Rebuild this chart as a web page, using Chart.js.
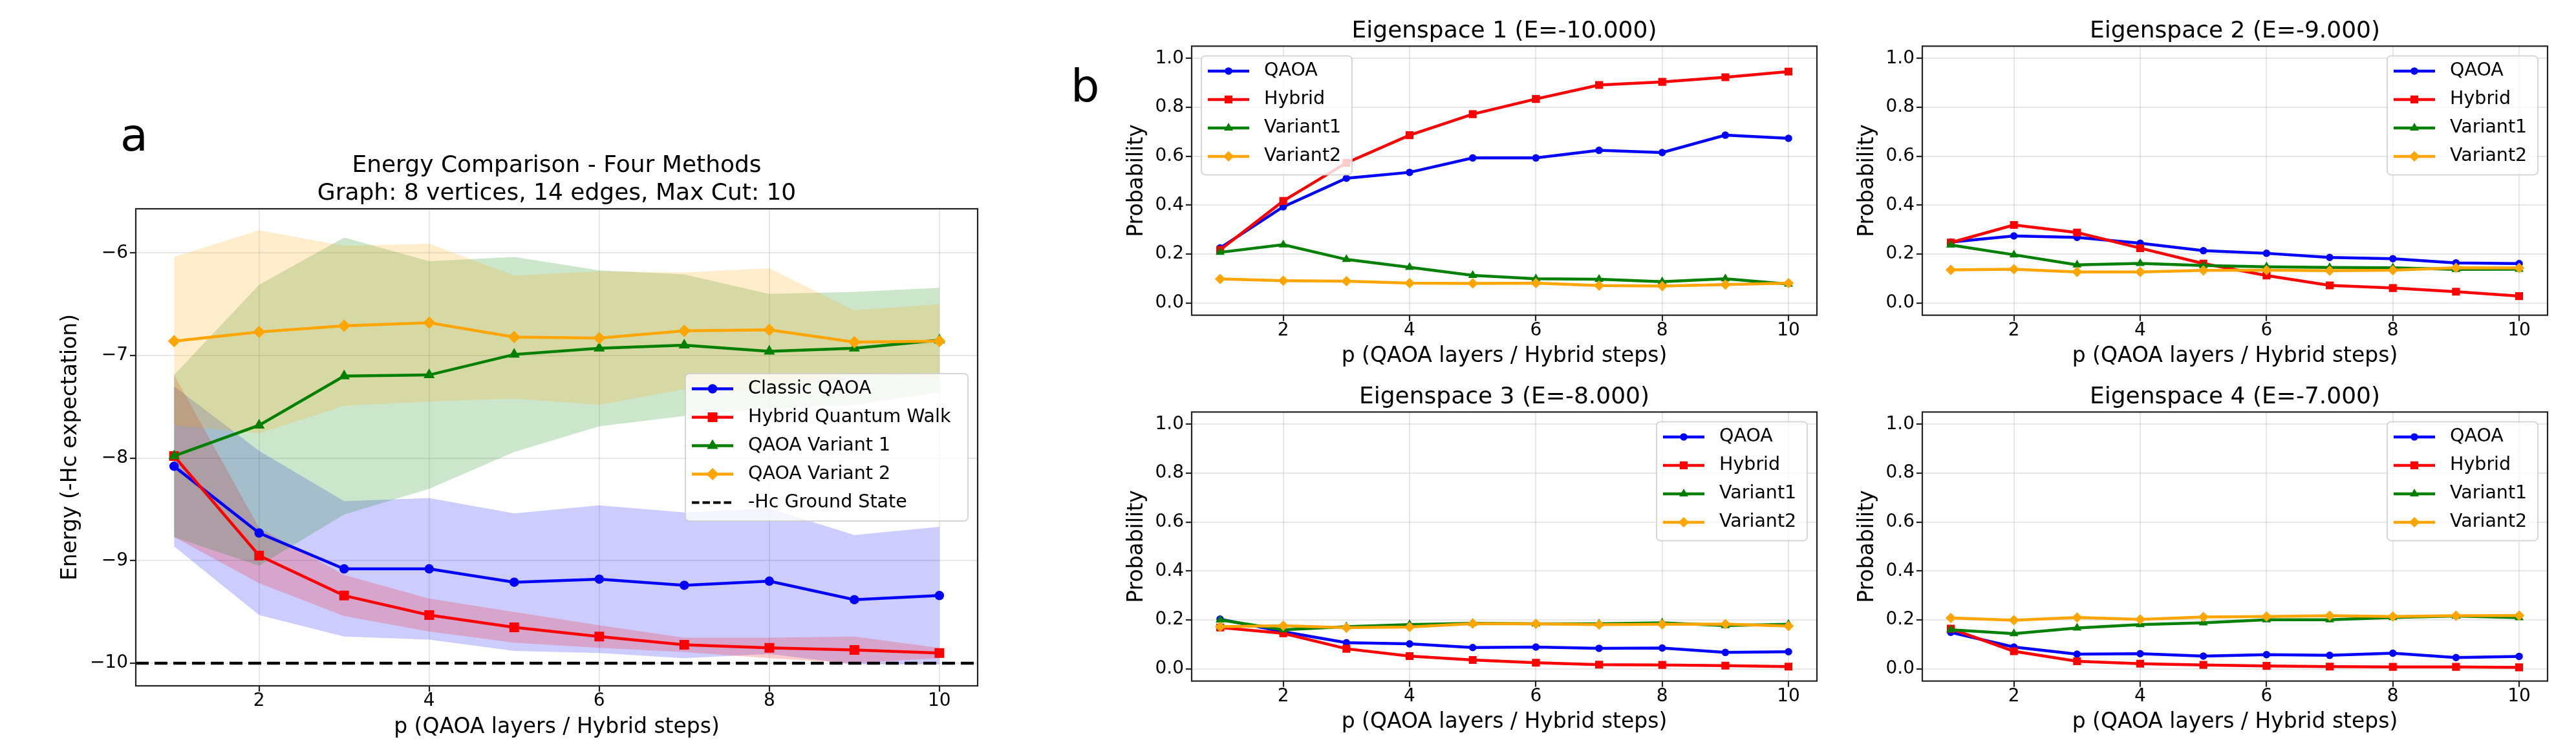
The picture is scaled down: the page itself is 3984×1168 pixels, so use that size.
<!DOCTYPE html>
<html>
<head>
<meta charset="utf-8">
<title>Energy comparison and eigenspace probabilities</title>
<script src="https://cdn.jsdelivr.net/npm/chart.js@4.4.1/dist/chart.umd.min.js"></script>
<style>
    html, body { margin: 0; padding: 0; background: #ffffff; }
    body { position: relative; width: 3984px; height: 1168px; overflow: hidden; font-family: "DejaVu Sans", sans-serif; }
    canvas { position: absolute; }
    .tag { position: absolute; font-size: 70px; line-height: 70px; color: #000; }
</style>
</head>
<body>

<div class="tag" style="left: 186px; top: 174px;">a</div>
<div class="tag" style="left: 1656px; top: 98px;">b</div>

<canvas id="energyChart" width="1560" height="1018" style="left: 0px; top: 150px;"></canvas>
<canvas id="eig1Chart" width="1140" height="580" style="left: 1700px; top: 0px;"></canvas>
<canvas id="eig2Chart" width="1140" height="580" style="left: 2830px; top: 0px;"></canvas>
<canvas id="eig3Chart" width="1140" height="588" style="left: 1700px; top: 580px;"></canvas>
<canvas id="eig4Chart" width="1140" height="588" style="left: 2830px; top: 580px;"></canvas>

<script>
// ---- data ----
const pSteps = [1, 2, 3, 4, 5, 6, 7, 8, 9, 10];
const pTicks = [2, 4, 6, 8, 10];
const energyTicks = [-10, -9, -8, -7, -6];
const probTicks = [0, 0.2, 0.4, 0.6, 0.8, 1.0];
const groundState = -10;

// panel a: mean energy and standard deviation per method
const classicMean = [-8.08, -8.73, -9.08, -9.08, -9.21, -9.18, -9.24, -9.20, -9.38, -9.34];
const classicStd = [0.78, 0.80, 0.66, 0.69, 0.67, 0.72, 0.71, 0.71, 0.63, 0.67];
const hybridMean = [-7.98, -8.95, -9.34, -9.53, -9.65, -9.74, -9.82, -9.85, -9.87, -9.90];
const hybridStd = [0.79, 0.27, 0.20, 0.16, 0.15, 0.11, 0.07, 0.10, 0.13, 0.05];
const variant1Mean = [-7.98, -7.68, -7.20, -7.19, -6.99, -6.93, -6.90, -6.96, -6.93, -6.85];
const variant1Std = [0.79, 1.37, 1.35, 1.11, 0.95, 0.76, 0.69, 0.56, 0.55, 0.51];
const variant2Mean = [-6.86, -6.77, -6.71, -6.68, -6.82, -6.83, -6.76, -6.75, -6.87, -6.86];
const variant2Std = [0.82, 0.99, 0.78, 0.77, 0.60, 0.65, 0.57, 0.60, 0.31, 0.36];

// panel b: probability of each eigenspace
const eig1Qaoa = [0.225, 0.393, 0.510, 0.534, 0.593, 0.593, 0.624, 0.615, 0.686, 0.673];
const eig1Hybrid = [0.217, 0.417, 0.573, 0.686, 0.772, 0.834, 0.891, 0.904, 0.923, 0.946];
const eig1Variant1 = [0.207, 0.238, 0.178, 0.146, 0.113, 0.099, 0.097, 0.087, 0.099, 0.077];
const eig1Variant2 = [0.098, 0.091, 0.089, 0.081, 0.080, 0.081, 0.071, 0.069, 0.075, 0.081];

const eig2Qaoa = [0.249, 0.274, 0.268, 0.244, 0.214, 0.203, 0.186, 0.181, 0.164, 0.161];
const eig2Hybrid = [0.247, 0.319, 0.288, 0.224, 0.161, 0.112, 0.072, 0.061, 0.046, 0.028];
const eig2Variant1 = [0.237, 0.197, 0.156, 0.162, 0.153, 0.148, 0.145, 0.144, 0.137, 0.138];
const eig2Variant2 = [0.135, 0.138, 0.127, 0.127, 0.133, 0.134, 0.132, 0.134, 0.144, 0.143];

const eig3Qaoa = [0.203, 0.152, 0.107, 0.102, 0.087, 0.089, 0.084, 0.085, 0.067, 0.070];
const eig3Hybrid = [0.169, 0.145, 0.082, 0.052, 0.036, 0.025, 0.017, 0.016, 0.013, 0.009];
const eig3Variant1 = [0.200, 0.160, 0.172, 0.181, 0.186, 0.184, 0.184, 0.188, 0.177, 0.182];
const eig3Variant2 = [0.172, 0.176, 0.168, 0.171, 0.185, 0.184, 0.181, 0.182, 0.183, 0.175];

const eig4Qaoa = [0.149, 0.089, 0.060, 0.062, 0.052, 0.058, 0.055, 0.064, 0.046, 0.051];
const eig4Hybrid = [0.164, 0.072, 0.031, 0.021, 0.016, 0.012, 0.009, 0.008, 0.008, 0.006];
const eig4Variant1 = [0.160, 0.144, 0.167, 0.181, 0.188, 0.201, 0.201, 0.210, 0.216, 0.209];
const eig4Variant2 = [0.208, 0.199, 0.210, 0.202, 0.212, 0.214, 0.217, 0.214, 0.217, 0.218];

const methodLabels = ["Classic QAOA", "Hybrid Quantum Walk", "QAOA Variant 1", "QAOA Variant 2"];
const shortLabels = ["QAOA", "Hybrid", "Variant1", "Variant2"];
const groundLabel = "-Hc Ground State";

// ---- styling ----
const colors = ["#0000ff", "#ff0000", "#008000", "#ffa500"];
const bandColors = ["rgba(0,0,255,0.2)", "rgba(255,0,0,0.2)", "rgba(0,128,0,0.2)", "rgba(255,165,0,0.2)"];
const markers = ["circle", "rect", "triangle", "rectRot"];
const bigRadius = [6.5, 9.5, 8.5, 8.5];
const smallRadius = [5, 7.5, 6.5, 7];

const X_MIN = 0.55, X_MAX = 10.45;

Chart.defaults.font.family = "'DejaVu Sans', sans-serif";
Chart.defaults.color = "#000";

const gridStyle = {
    color: "rgba(176,176,176,0.3)",
    lineWidth: 2,
    drawTicks: true,
    tickLength: 9,
    tickColor: "#222",
    tickWidth: 2.2
};

function points(values) {
    return pSteps.map((p, i) => ({ x: p, y: values[i] }));
}

function lineSet(label, values, k, radius, order) {
    return {
        label: label,
        inLegend: true,
        data: points(values),
        borderColor: colors[k],
        backgroundColor: colors[k],
        borderWidth: 4.5,
        pointStyle: markers[k],
        pointRadius: radius[k],
        pointBorderWidth: 1.5,
        pointBackgroundColor: colors[k],
        pointBorderColor: colors[k],
        fill: false,
        order: order
    };
}

// mean +/- std band: an invisible lower line and an upper line filled down to it
function bandSets(mean, std, k, lowerIndex, order) {
    const lower = mean.map((m, i) => m - std[i]);
    const upper = mean.map((m, i) => m + std[i]);
    return [
        {
            data: points(lower),
            borderColor: "rgba(0,0,0,0)",
            borderWidth: 0,
            pointRadius: 0,
            fill: false,
            order: order
        },
        {
            data: points(upper),
            borderColor: "rgba(0,0,0,0)",
            borderWidth: 0,
            pointRadius: 0,
            fill: lowerIndex,
            backgroundColor: bandColors[k],
            order: order
        }
    ];
}

function drawMarker(ctx, style, r, x, y, color) {
    ctx.beginPath();
    if (style === "circle") {
        ctx.arc(x, y, r, 0, Math.PI * 2);
    } else if (style === "rect") {
        const s = r * Math.SQRT1_2;
        ctx.rect(x - s, y - s, 2 * s, 2 * s);
    } else if (style === "triangle") {
        for (let i = 0; i < 3; i++) {
            const a = i * 2 * Math.PI / 3;
            const px = x + Math.sin(a) * r, py = y - Math.cos(a) * r;
            if (i === 0) ctx.moveTo(px, py); else ctx.lineTo(px, py);
        }
    } else {
        ctx.moveTo(x - r, y);
        ctx.lineTo(x, y - r);
        ctx.lineTo(x + r, y);
        ctx.lineTo(x, y + r);
    }
    ctx.closePath();
    ctx.fillStyle = color;
    ctx.fill();
    ctx.lineWidth = 1.5;
    ctx.strokeStyle = color;
    ctx.stroke();
}

// black box round the plot area
const framePlugin = {
    id: "frame",
    afterDatasetsDraw(chart) {
        const { ctx, chartArea: a } = chart;
        ctx.save();
        ctx.strokeStyle = "#222";
        ctx.lineWidth = 2.2;
        ctx.strokeRect(a.left, a.top, a.right - a.left, a.bottom - a.top);
        ctx.restore();
    }
};

// legend box drawn inside the plot area
const boxLegend = {
    id: "boxLegend",
    afterDraw(chart, args, opts) {
        const { ctx, chartArea: area } = chart;
        const items = chart.data.datasets.filter(ds => ds.inLegend);
        const rowH = 44;
        const w = opts.width;
        const h = items.length * rowH + 8;
        let left, top;
        if (opts.place === "upper left") {
            left = area.left + 15; top = area.top + 15;
        } else if (opts.place === "upper right") {
            left = area.right - 15 - w; top = area.top + 15;
        } else {
            left = area.right - 15 - w; top = (area.top + area.bottom) / 2 - h / 2;
        }
        const rad = 6;
        ctx.save();
        ctx.beginPath();
        ctx.moveTo(left + rad, top);
        ctx.arcTo(left + w, top, left + w, top + h, rad);
        ctx.arcTo(left + w, top + h, left, top + h, rad);
        ctx.arcTo(left, top + h, left, top, rad);
        ctx.arcTo(left, top, left + w, top, rad);
        ctx.closePath();
        ctx.fillStyle = "rgba(255,255,255,0.8)";
        ctx.fill();
        ctx.strokeStyle = "rgba(204,204,204,0.8)";
        ctx.lineWidth = 2;
        ctx.stroke();

        items.forEach((ds, i) => {
            const y = top + 23.5 + i * rowH;
            ctx.strokeStyle = ds.borderColor;
            ctx.lineWidth = ds.legendWidth || ds.borderWidth;
            ctx.setLineDash(ds.legendDash || []);
            ctx.beginPath();
            ctx.moveTo(left + 10, y);
            ctx.lineTo(left + 74, y);
            ctx.stroke();
            ctx.setLineDash([]);
            if (ds.pointRadius) {
                drawMarker(ctx, ds.pointStyle, ds.pointRadius, left + 42, y, ds.borderColor);
            }
            ctx.fillStyle = "#000";
            ctx.font = opts.fontSize + "px 'DejaVu Sans'";
            ctx.textAlign = "left";
            ctx.textBaseline = "middle";
            ctx.fillText(ds.label, left + 97, y);
        });
        ctx.restore();
    }
};

function xAxis(height, titlePad) {
    return {
        type: "linear",
        min: X_MIN,
        max: X_MAX,
        afterBuildTicks: (s) => { s.ticks = pTicks.map(v => ({ value: v })); },
        afterFit: (s) => { s.height = height; },
        ticks: { font: { size: 28, lineHeight: 1 }, padding: 1, color: "#000" },
        grid: gridStyle,
        border: { display: false },
        title: {
            display: true,
            text: "p (QAOA layers / Hybrid steps)",
            font: { size: 33 },
            padding: { top: 0, bottom: titlePad }
        }
    };
}

function yAxis(min, max, tickValues, format, label, width, titlePad) {
    return {
        type: "linear",
        min: min,
        max: max,
        afterBuildTicks: (s) => { s.ticks = tickValues.map(v => ({ value: v })); },
        afterFit: (s) => { s.width = width; },
        ticks: { font: { size: 28, lineHeight: 1 }, padding: 3, color: "#000", callback: format },
        grid: gridStyle,
        border: { display: false },
        title: {
            display: true,
            text: label,
            font: { size: 33 },
            padding: { top: titlePad, bottom: 0 }
        }
    };
}

// ---- panel a ----
const energySets = [
    ...bandSets(classicMean, classicStd, 0, 0, 14),
    ...bandSets(hybridMean, hybridStd, 1, 2, 13),
    ...bandSets(variant1Mean, variant1Std, 2, 4, 12),
    ...bandSets(variant2Mean, variant2Std, 3, 6, 11),
    lineSet(methodLabels[0], classicMean, 0, bigRadius, 5),
    lineSet(methodLabels[1], hybridMean, 1, bigRadius, 4),
    lineSet(methodLabels[2], variant1Mean, 2, bigRadius, 3),
    lineSet(methodLabels[3], variant2Mean, 3, bigRadius, 2),
    {
        label: groundLabel,
        inLegend: true,
        data: [{ x: X_MIN, y: groundState }, { x: X_MAX, y: groundState }],
        borderColor: "#000",
        borderWidth: 4.5,
        borderDash: [20, 9],
        legendDash: [11.5, 5],
        legendWidth: 4,
        pointRadius: 0,
        fill: false,
        order: 1
    }
];

new Chart(document.getElementById("energyChart").getContext("2d"), {
    type: "line",
    data: { datasets: energySets },
    options: {
        responsive: false,
        animation: false,
        devicePixelRatio: 1,
        events: [],
        layout: { padding: { left: 0, right: 48, top: 0, bottom: 0 } },
        plugins: {
            legend: { display: false },
            tooltip: { enabled: false },
            title: {
                display: true,
                fullSize: false,
                text: ["Energy Comparison - Four Methods", "Graph: 8 vertices, 14 edges, Max Cut: 10"],
                font: { size: 36, weight: "normal", lineHeight: 1.2 },
                color: "#000",
                padding: { top: 84.6, bottom: 2 }
            },
            boxLegend: { place: "center right", width: 437, fontSize: 28.5 }
        },
        scales: {
            x: xAxis(107, 23),
            y: yAxis(-10.22, -5.57, energyTicks,
                v => (v < 0 ? "\u2212" + Math.abs(v) : String(v)),
                "Energy (-Hc expectation)", 210, 90)
        }
    },
    plugins: [framePlugin, boxLegend]
});

// ---- panel b ----
function drawEigenspace(id, title, series, place, titleTop, xHeight, xTitlePad) {
    const datasets = series.map((values, k) =>
        lineSet(shortLabels[k], values, k, smallRadius, 4 - k)
    );

    new Chart(document.getElementById(id).getContext("2d"), {
        type: "line",
        data: { datasets: datasets },
        options: {
            responsive: false,
            animation: false,
            devicePixelRatio: 1,
            events: [],
            layout: { padding: { left: 0, right: 30, top: 0, bottom: 0 } },
            plugins: {
                legend: { display: false },
                tooltip: { enabled: false },
                title: {
                    display: true,
                    fullSize: false,
                    text: title,
                    font: { size: 36, weight: "normal", lineHeight: 1.2 },
                    color: "#000",
                    padding: { top: titleTop, bottom: 1.3 }
                },
                boxLegend: { place: place, width: 233, fontSize: 28.5 }
            },
            scales: {
                x: xAxis(xHeight, xTitlePad),
                y: yAxis(-0.05, 1.05, probTicks, v => v.toFixed(1), "Probability", 143, 39)
            }
        },
        plugins: [framePlugin, boxLegend]
    });
}

drawEigenspace("eig1Chart", "Eigenspace 1 (E=-10.000)",
    [eig1Qaoa, eig1Hybrid, eig1Variant1, eig1Variant2], "upper left", 26.9, 92.4, 8.6);
drawEigenspace("eig2Chart", "Eigenspace 2 (E=-9.000)",
    [eig2Qaoa, eig2Hybrid, eig2Variant1, eig2Variant2], "upper right", 26.9, 92.4, 8.6);
drawEigenspace("eig3Chart", "Eigenspace 3 (E=-8.000)",
    [eig3Qaoa, eig3Hybrid, eig3Variant1, eig3Variant2], "upper right", 12.9, 114.4, 30.6);
drawEigenspace("eig4Chart", "Eigenspace 4 (E=-7.000)",
    [eig4Qaoa, eig4Hybrid, eig4Variant1, eig4Variant2], "upper right", 12.9, 114.4, 30.6);
</script>
</body>
</html>
